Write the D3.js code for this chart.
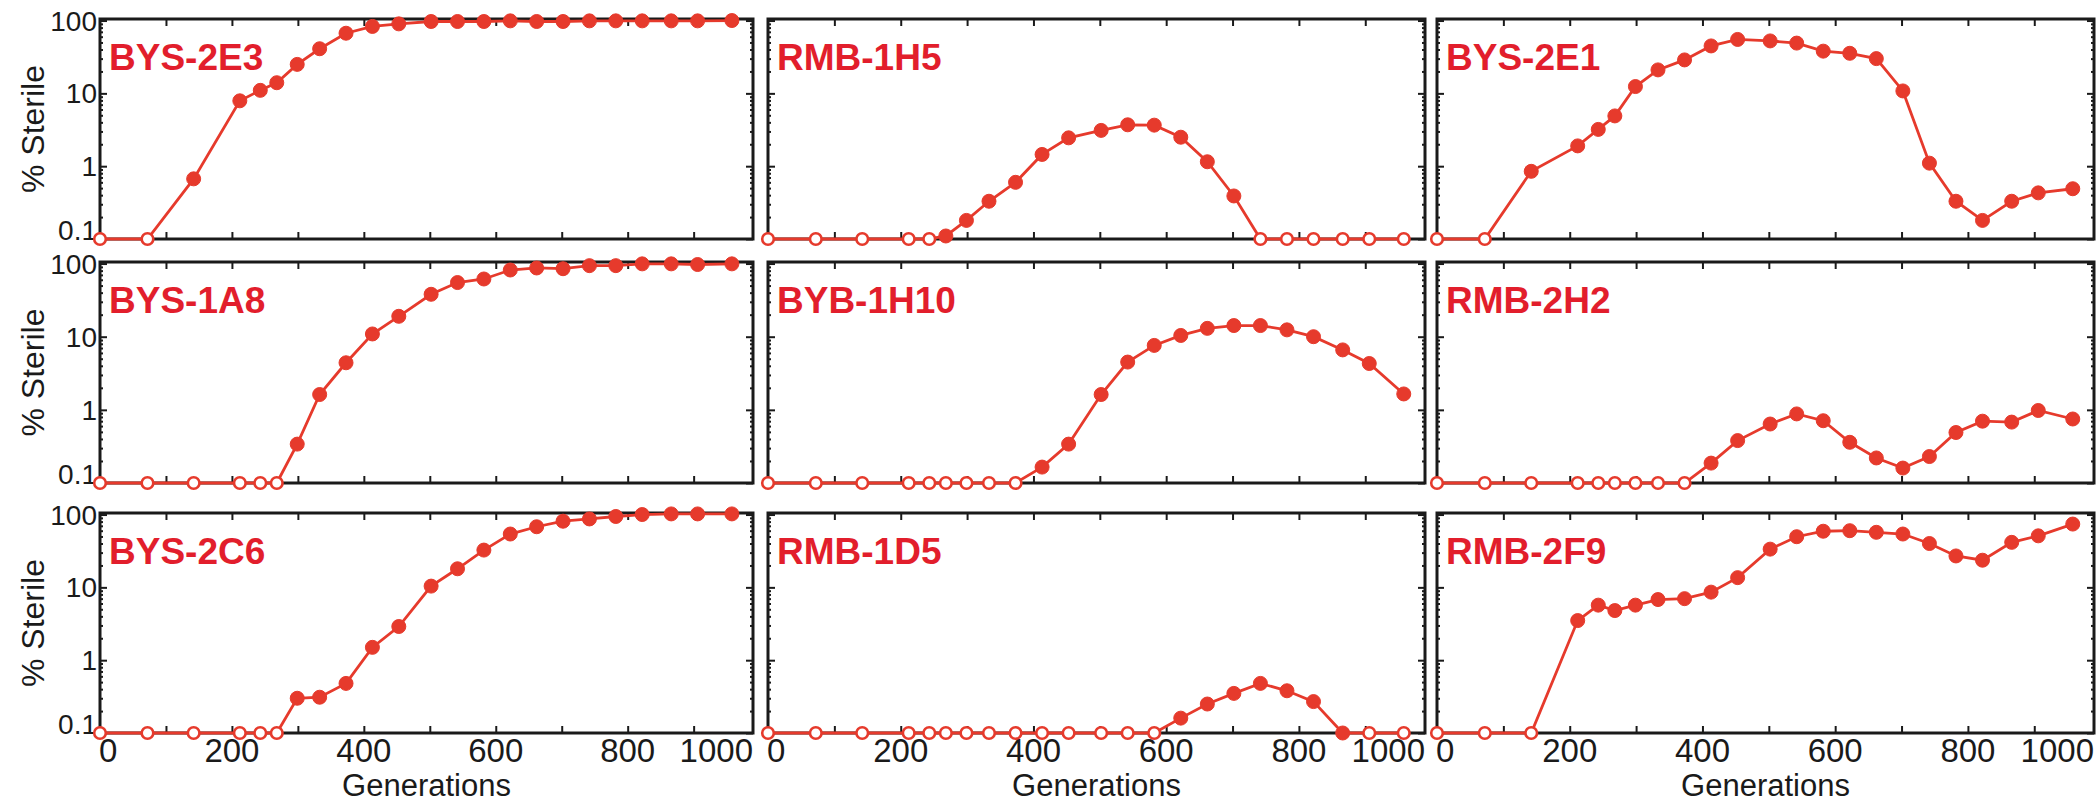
<!DOCTYPE html>
<html>
<head>
<meta charset="utf-8">
<script src="https://cdn.jsdelivr.net/npm/d3@7"></script>
<style>
  html, body { margin: 0; padding: 0; background: #fff; }
  svg { display: block; }
  text { font-family: "Liberation Sans", Arial, Helvetica, sans-serif; }
</style>
</head>
<body>
<svg id="chart" width="2099" height="804"></svg>
<script>
// ---- data ----
const generations = [0, 72, 142, 212, 243, 268, 299, 333, 373, 413, 453, 502, 542, 582, 622, 662, 702, 742, 782, 822, 866, 906, 958];

const strainNames = ["BYS-2E3", "RMB-1H5", "BYS-2E1", "BYS-1A8", "BYB-1H10", "RMB-2H2", "BYS-2C6", "RMB-1D5", "RMB-2F9"];

const bys2E3 = [0, 0, 0.67, 7.9, 11, 14, 25, 41, 67, 83, 90, 97, 97, 97, 99, 97, 97, 99, 99, 99, 99, 99, 100];
const rmb1H5 = [0, 0, 0, 0, 0, 0.11, 0.18, 0.33, 0.60, 1.45, 2.45, 3.1, 3.7, 3.66, 2.5, 1.15, 0.39, 0, 0, 0, 0, 0, 0];
const bys2E1 = [0, 0, 0.85, 1.9, 3.2, 4.9, 12.4, 21, 28.8, 44.8, 55, 52.5, 49, 38, 35.5, 30, 10.8, 1.1, 0.33, 0.18, 0.33, 0.43, 0.49];
const bys1A8 = [0, 0, 0, 0, 0, 0, 0.34, 1.62, 4.4, 10.9, 19, 38, 55, 61.5, 81.6, 87, 85, 93.6, 93.6, 99, 99, 97, 99];
const byb1H10 = [0, 0, 0, 0, 0, 0, 0, 0, 0, 0.165, 0.34, 1.62, 4.5, 7.6, 10.4, 13, 14.2, 14.2, 12.4, 10, 6.6, 4.3, 1.65];
const rmb2H2 = [0, 0, 0, 0, 0, 0, 0, 0, 0, 0.187, 0.38, 0.64, 0.88, 0.71, 0.36, 0.22, 0.16, 0.23, 0.49, 0.70, 0.68, 0.98, 0.75];
const bys2C6 = [0, 0, 0, 0, 0, 0, 0.30, 0.31, 0.48, 1.5, 2.9, 10.4, 18, 32.5, 54, 68, 81, 87, 94, 100, 102, 102, 102];
const rmb1D5 = [0, 0, 0, 0, 0, 0, 0, 0, 0, 0, 0, 0, 0, 0, 0.16, 0.25, 0.35, 0.48, 0.38, 0.27, 0.1, 0, 0];
const rmb2F9 = [0, 0, 0, 3.5, 5.7, 4.8, 5.7, 6.8, 7.0, 8.6, 13.6, 33.5, 49.6, 59, 60, 57, 54, 40, 27, 23.6, 41.5, 51, 74];

const seriesList = [bys2E3, rmb1H5, bys2E1, bys1A8, byb1H10, rmb2H2, bys2C6, rmb1D5, rmb2F9];

const yMajorTicks = [0.1, 1, 10, 100];
const yTickLabels = ["0.1", "1", "10", "100"];
const xMajorTicks = [100, 200, 300, 400, 500, 600, 700, 800, 900];
const xLabelValues = [0, 200, 400, 600, 800, 1000];
const xLabelTexts = ["0", "200", "400", "600", "800", "1000"];
const yAxisTitle = "% Sterile";
const xAxisTitle = "Generations";

// ---- layout ----
const colLeft = [100, 768, 1437];
const colRight = [753, 1425, 2094];
const rowTop = [19, 262, 513];
const rowBottom = [239, 483, 733];

const RED = "#e63a2c";
const LABEL_RED = "#e21e2c";
const INK = "#1a1a1a";

const svg = d3.select("#chart");

const yMinor = [];
[0.1, 1, 10].forEach(d => { for (let k = 2; k <= 9; k++) yMinor.push(d * k); });

seriesList.forEach((vals, i) => {
  const r = Math.floor(i / 3), c = i % 3;
  const L = colLeft[c], R = colRight[c], T = rowTop[r], B = rowBottom[r];
  const x = d3.scaleLinear().domain([0, 990]).range([L, R]);
  const y = d3.scaleLog().domain([0.1, 105]).range([B, T]);
  const yv = v => (v > 0 ? y(Math.max(v, 0.1)) : y(0.1));

  const g = svg.append("g");

  // minor y ticks
  g.append("g").attr("transform", `translate(${L},0)`)
    .call(d3.axisLeft(y).tickValues(yMinor).tickSize(-3).tickFormat(""));
  g.append("g").attr("transform", `translate(${R},0)`)
    .call(d3.axisRight(y).tickValues(yMinor).tickSize(-3).tickFormat(""));

  // major y ticks
  g.append("g").attr("transform", `translate(${L},0)`)
    .call(d3.axisLeft(y).tickValues(yMajorTicks).tickSize(-7).tickFormat(""));
  g.append("g").attr("transform", `translate(${R},0)`)
    .call(d3.axisRight(y).tickValues(yMajorTicks).tickSize(-7).tickFormat(""));

  // x ticks
  g.append("g").attr("transform", `translate(0,${B})`)
    .call(d3.axisBottom(x).tickValues(xMajorTicks).tickSize(-7).tickFormat(""));
  g.append("g").attr("transform", `translate(0,${T})`)
    .call(d3.axisTop(x).tickValues(xMajorTicks).tickSize(-7).tickFormat(""));

  g.selectAll(".domain").remove();
  g.selectAll(".tick line").attr("stroke", INK).attr("stroke-width", 2);

  // frame
  g.append("rect").attr("x", L).attr("y", T).attr("width", R - L).attr("height", B - T)
    .attr("fill", "none").attr("stroke", INK).attr("stroke-width", 3);

  // y tick labels (first column)
  if (c === 0) {
    yMajorTicks.forEach((t, k) => {
      g.append("text")
        .attr("x", L - 3)
        .attr("y", y(t) + (t === 0.1 ? -9 : 0))
        .attr("dy", "0.36em")
        .attr("text-anchor", "end")
        .attr("font-size", 28)
        .attr("fill", INK)
        .text(yTickLabels[k]);
    });
    g.append("text")
      .attr("transform", `translate(${32},${(T + B) / 2}) rotate(-90)`)
      .attr("dy", "0.36em")
      .attr("text-anchor", "middle")
      .attr("font-size", 32)
      .attr("fill", INK)
      .text(yAxisTitle);
  }

  // x tick labels (bottom row)
  if (r === 2) {
    xLabelValues.forEach((v, k) => {
      let px = x(v), anchor = "middle";
      if (k === 0) { px = L - 1; anchor = "start"; }
      if (k === xLabelValues.length - 1) { px = R; anchor = "end"; }
      g.append("text")
        .attr("x", px).attr("y", 762)
        .attr("text-anchor", anchor)
        .attr("font-size", 33)
        .attr("fill", INK)
        .text(xLabelTexts[k]);
    });
    g.append("text")
      .attr("x", (L + R) / 2).attr("y", 796)
      .attr("text-anchor", "middle")
      .attr("font-size", 31)
      .attr("fill", INK)
      .text(xAxisTitle);
  }

  // series line
  const pts = generations.map((gen, k) => ({ gen, v: vals[k] }));
  const line = d3.line().x(d => x(d.gen)).y(d => yv(d.v));
  g.append("path").datum(pts).attr("d", line)
    .attr("fill", "none").attr("stroke", RED).attr("stroke-width", 2.8);

  // markers
  g.selectAll("circle.m").data(pts).join("circle")
    .attr("class", "m")
    .attr("cx", d => x(d.gen))
    .attr("cy", d => yv(d.v))
    .attr("r", d => d.v > 0 ? 7 : 5.8)
    .attr("fill", d => d.v > 0 ? RED : "#fff")
    .attr("stroke", RED)
    .attr("stroke-width", d => d.v > 0 ? 1 : 2.6);

  // strain label
  g.append("text")
    .attr("x", L + 9).attr("y", T + 51)
    .attr("font-size", 37)
    .attr("font-weight", "bold")
    .attr("fill", LABEL_RED)
    .text(strainNames[i]);
});
</script>
</body>
</html>
